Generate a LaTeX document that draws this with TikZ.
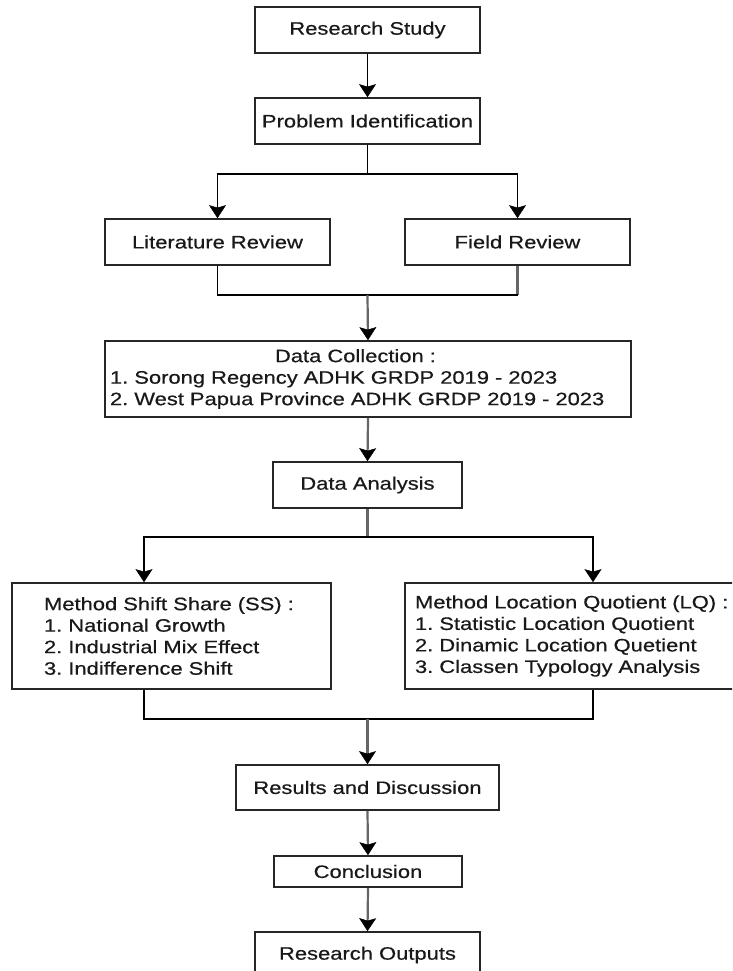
\documentclass[tikz,border=0pt]{standalone}
\usepackage{fontspec}
\setmainfont[FakeStretch=1.22,FakeBold=0.5]{Liberation Sans}
\usetikzlibrary{arrows.meta,calc}
\begin{document}
\frenchspacing
\begin{tikzpicture}[x=1pt,y=-1pt,font=\fontsize{18}{21.5}\selectfont\frenchspacing,
  box/.style={draw=black!85, line width=1.7pt, fill=white, text=black!90, inner sep=0pt, minimum height=46pt, align=center},
  arr/.style={draw=black, line width=1.7pt, -{Stealth[width=17pt,length=13pt,inset=2.5pt,color=black,fill=black,line width=0.5pt]}},
  garr/.style={arr, draw=black!60, line width=2.2pt},
  plain/.style={draw=black, line width=1.7pt},
  gplain/.style={draw=black!60, line width=2.2pt}]
\useasboundingbox (0,0) rectangle (732,971);
\fill[white] (0,0) rectangle (732,971);
\clip (0,0) rectangle (732,971);

\node[box, minimum width=225] (rs) at (367.5,30) {Research Study};
\node[box, minimum width=225] (pi) at (367.5,121) {Problem Identification};
\node[box, minimum width=225] (lit) at (217.5,242) {Literature Review};
\node[box, minimum width=225] (field) at (517.5,242) {Field Review};
\node[box, text width=516, inner xsep=5, minimum height=76, align=left] (dc) at (368,379)
  {\hspace*{165pt}Data Collection :\\1. Sorong Regency ADHK GRDP 2019 - 2023\\2. West Papua Province ADHK GRDP 2019 - 2023};
\node[box, minimum width=189] (da) at (367.5,485) {Data Analysis};
\node[box, text width=255, inner xsep=32, minimum height=106, align=left] (ss) at (171.5,636)
  {Method Shift Share (SS) :\\1. National Growth\\2. Industrial Mix Effect\\3. Indifference Shift};
\node[box, text width=320, inner xsep=10, minimum height=106, align=left] (lq) at (575,636)
  {Method Location Quotient (LQ) :\\1. Statistic Location Quotient\\2. Dinamic Location Quetient\\3. Classen Typology Analysis};
\node[box, minimum width=263, minimum height=45] (res) at (367.5,787.5) {Results and Discussion};
\node[box, minimum width=188, minimum height=31] (con) at (368,871.5) {Conclusion};
\node[box, minimum width=225, minimum height=46] (ro) at (367.5,955) {Research Outputs};

\coordinate (b1) at (367.5,174);
\coordinate (j1) at (367.5,295);
\coordinate (b2) at (367.5,537);
\coordinate (j2) at (367.5,719);

\draw[arr] (rs) -- (pi);
\draw[plain] (pi.south) -- (b1);
\draw[arr] (b1) -| (lit.north);
\draw[arr] (b1) -| (field.north);
\draw[plain] (lit.south) |- (j1);
\draw[gplain] (field.south) -- (field.south |- j1);
\draw[plain] (field.south |- j1) -- (j1);
\draw[garr] (j1) -- (dc.north);
\draw[garr] (dc.south) -- (da.north);
\draw[gplain] (da.south) -- (b2);
\draw[arr] (b2) -| ([xshift=-27.5]ss.north);
\draw[arr] (b2) -| ([xshift=18]lq.north);
\draw[plain] ([xshift=-27.5]ss.south) |- (j2);
\draw[plain] ([xshift=18]lq.south) |- (j2);
\draw[garr] (j2) -- (res.north);
\draw[garr] (res.south) -- (con.north);
\draw[garr] (con.south) -- (ro.north);
\end{tikzpicture}
\end{document}
